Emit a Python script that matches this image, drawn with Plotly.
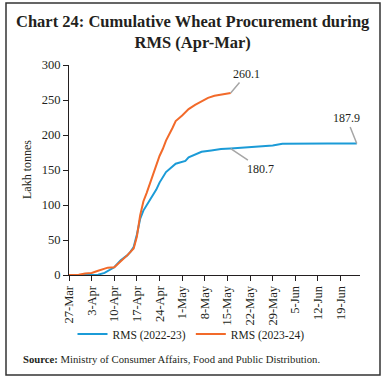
import pandas as pd
import plotly.graph_objects as go

# ---- data ----
dates_2223 = ["27-Mar", "1-Apr", "5-Apr", "7-Apr", "9-Apr", "10-Apr", "12-Apr", "13-Apr",
              "14-Apr", "15-Apr", "16-Apr", "17-Apr", "18-Apr", "19-Apr", "21-Apr", "23-Apr",
              "24-Apr", "26-Apr", "29-Apr", "1-May", "2-May", "3-May", "5-May", "7-May",
              "10-May", "13-May", "16-May", "19-May", "23-May", "27-May", "29-May", "1-Jun",
              "5-Jun", "15-Jun", "24-Jun"]
values_2223 = [0, 0, 0.5, 3, 8, 11, 21, 24,
               28, 33, 40, 58, 80, 92, 107, 122,
               132, 147, 159, 161, 163, 168, 172, 176,
               178, 180, 180.7, 181.5, 182.5, 184.5, 185, 187.5,
               187.8, 187.8, 187.9]

dates_2324 = ["27-Mar", "30-Mar", "1-Apr", "3-Apr", "5-Apr", "7-Apr", "8-Apr", "10-Apr",
              "12-Apr", "14-Apr", "16-Apr", "17-Apr", "18-Apr", "19-Apr", "20-Apr", "22-Apr",
              "23-Apr", "24-Apr", "25-Apr", "26-Apr", "28-Apr", "29-Apr", "1-May", "3-May",
              "5-May", "7-May", "9-May", "11-May", "13-May", "15-May", "16-May"]
values_2324 = [0, 0.5, 2, 3, 6, 9, 10.5, 11,
               19, 28, 38, 55, 85, 105, 117, 145,
               157, 170, 180, 192, 210, 220, 228, 237,
               243, 248, 253, 256, 257.5, 258.5, 260.1]

tick_labels = ["27-Mar", "3-Apr", "10-Apr", "17-Apr", "24-Apr", "1-May", "8-May",
               "15-May", "22-May", "29-May", "5-Jun", "12-Jun", "19-Jun"]
y_ticks = [0, 50, 100, 150, 200, 250, 300]

series_names = ["RMS (2022-23)", "RMS (2023-24)"]


def to_date(s):
    return pd.to_datetime(s + "-2023", format="%d-%b-%Y")


x1 = [to_date(d) for d in dates_2223]
x2 = [to_date(d) for d in dates_2324]
tickvals = [to_date(d) for d in tick_labels]

BLUE = "#1b9bd7"
ORANGE = "#f26a2a"
TXT = "#231f20"
GREY = "#a6a6a6"
FONT = "Liberation Serif"

fig = go.Figure()
fig.add_trace(go.Scatter(x=x1, y=values_2223, mode="lines", name=series_names[0],
                         line=dict(color=BLUE, width=2)))
fig.add_trace(go.Scatter(x=x2, y=values_2324, mode="lines", name=series_names[1],
                         line=dict(color=ORANGE, width=2)))

# plot area in pixels
W, H = 385, 381
L, R, T, B = 69, 360, 65, 275
pw, ph = R - L, B - T


def px2paper_x(px):
    return (px - L) / pw


def px2paper_y(py):
    return (B - py) / ph


fig.update_layout(
    width=W, height=H,
    margin=dict(l=L, r=W - R, t=T, b=H - B, autoexpand=False),
    paper_bgcolor="white", plot_bgcolor="white",
    font=dict(family=FONT, color=TXT, size=12),
    showlegend=True,
    legend=dict(orientation="h", x=px2paper_x(191), xanchor="center",
                y=px2paper_y(334), yanchor="middle",
                font=dict(family=FONT, size=11.5, color=TXT),
                bgcolor="rgba(0,0,0,0)", itemwidth=30, tracegroupgap=0),
    xaxis=dict(type="date", range=[to_date("27-Mar"), to_date("25-Jun")],
               tickvals=tickvals, ticktext=tick_labels, tickangle=-90,
               ticks="outside", ticklen=5, tickcolor=TXT, tickwidth=1,
               showline=True, linecolor=TXT, linewidth=1,
               showgrid=False, zeroline=False, automargin=False,
               tickfont=dict(family=FONT, size=12.5, color=TXT)),
    yaxis=dict(range=[0, 300], tickvals=y_ticks,
               ticks="outside", ticklen=5, tickcolor=TXT, tickwidth=1,
               showline=True, linecolor=TXT, linewidth=1,
               showgrid=False, zeroline=False, automargin=False,
               tickfont=dict(family=FONT, size=12.5, color=TXT)),
)

annotations = [
    dict(text="<b>Chart 24: Cumulative Wheat Procurement during<br>RMS (Apr-Mar)</b>",
         x=px2paper_x(193), y=px2paper_y(10), xref="paper", yref="paper",
         showarrow=False, xanchor="center", yanchor="top", align="center",
         font=dict(family=FONT, size=16.5, color=TXT)),
    dict(x=x2[-1], y=values_2324[-1], xref="x", yref="y",
         text=f"{values_2324[-1]:.1f}", showarrow=True, arrowhead=0,
         arrowcolor=GREY, arrowwidth=1.5, ax=16, ay=-19,
         font=dict(family=FONT, size=12, color=TXT)),
    dict(x=to_date("16-May"), y=180.7, xref="x", yref="y",
         text="180.7", showarrow=True, arrowhead=0,
         arrowcolor=GREY, arrowwidth=1.5, ax=30, ay=20,
         font=dict(family=FONT, size=12, color=TXT)),
    dict(x=x1[-1], y=values_2223[-1], xref="x", yref="y",
         text=f"{values_2223[-1]:.1f}", showarrow=True, arrowhead=0,
         arrowcolor=GREY, arrowwidth=1.5, ax=-10, ay=-25,
         font=dict(family=FONT, size=12, color=TXT)),
    dict(text="Lakh tonnes", textangle=-90, x=px2paper_x(27), y=px2paper_y(170),
         xref="paper", yref="paper", showarrow=False, xanchor="center", yanchor="middle",
         font=dict(family=FONT, size=12, color=TXT)),
    dict(text="<b>Source:</b> Ministry of Consumer Affairs, Food and Public Distribution.",
         x=px2paper_x(21), y=px2paper_y(359), xref="paper", yref="paper",
         showarrow=False, xanchor="left", yanchor="middle",
         font=dict(family=FONT, size=10.7, color=TXT)),
]
fig.update_layout(annotations=annotations)

fig.add_shape(type="rect", xref="paper", yref="paper",
              x0=px2paper_x(6), x1=px2paper_x(380),
              y0=px2paper_y(375), y1=px2paper_y(3),
              line=dict(color="#333333", width=1.5), fillcolor="rgba(0,0,0,0)",
              layer="below")

fig.write_html("out.html",
               config={"displayModeBar": False},
               post_script="document.body.style.margin='0';document.body.style.padding='0';"
                           "document.body.style.overflow='hidden';")
